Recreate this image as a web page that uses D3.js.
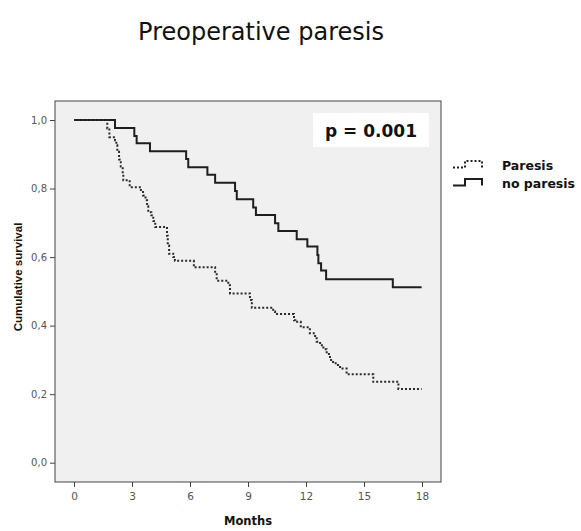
<!DOCTYPE html>
<html>
<head>
<meta charset="utf-8">
<script src="https://cdn.jsdelivr.net/npm/d3@7"></script>
<style>
  html, body { margin: 0; padding: 0; background: #ffffff; }
  svg { display: block; }
</style>
</head>
<body>
<svg id="chart" width="581" height="531"></svg>
<script>
// Kaplan-Meier survival estimates by preoperative paresis status
const paresisTimes = [0, 1.72, 1.83, 2.12, 2.19, 2.24, 2.33, 2.42, 2.52, 2.55, 2.88, 3.46, 3.57, 3.7, 3.78, 3.84, 4.0, 4.1, 4.2, 4.81, 4.85, 4.92, 5.13, 5.22, 6.2, 7.3, 7.38, 7.98, 8.07, 9.1, 9.2, 10.3, 10.4, 11.38, 11.45, 11.73, 12.2, 12.4, 12.55, 12.73, 12.9, 13.07, 13.24, 13.4, 13.6, 13.76, 14.1, 15.48, 16.78, 17.98];
const paresisSurvival = [1.0, 0.975, 0.950, 0.941, 0.926, 0.907, 0.885, 0.864, 0.843, 0.824, 0.804, 0.790, 0.780, 0.766, 0.748, 0.731, 0.722, 0.705, 0.688, 0.662, 0.634, 0.610, 0.600, 0.589, 0.570, 0.553, 0.531, 0.518, 0.494, 0.475, 0.452, 0.441, 0.434, 0.416, 0.411, 0.395, 0.378, 0.370, 0.353, 0.343, 0.331, 0.317, 0.300, 0.290, 0.285, 0.275, 0.258, 0.236, 0.215, 0.215];

const noParesisTimes = [0, 2.12, 3.12, 3.24, 3.93, 5.8, 5.91, 6.9, 7.3, 8.33, 8.42, 9.27, 9.41, 10.4, 10.57, 11.52, 12.07, 12.59, 12.64, 12.78, 13.04, 16.49, 17.98];
const noParesisSurvival = [1.0, 0.977, 0.953, 0.932, 0.909, 0.886, 0.862, 0.840, 0.817, 0.793, 0.769, 0.745, 0.723, 0.699, 0.676, 0.652, 0.631, 0.606, 0.582, 0.561, 0.535, 0.512, 0.512];

const xTicks = [0, 3, 6, 9, 12, 15, 18];
const yTicks = [0, 0.2, 0.4, 0.6, 0.8, 1.0];
const seriesNames = ["Paresis", "no paresis"];
const titleText = "Preoperative paresis";
const pValueText = "p = 0.001";

const svg = d3.select("#chart");

// plot frame
const frame = { left: 55, right: 441, top: 101, bottom: 482 };

const x = d3.scaleLinear().domain([0, 18]).range([74, 422]);
const y = d3.scaleLinear().domain([0, 1]).range([462.7, 120]);

svg.append("rect")
  .attr("x", frame.left).attr("y", frame.top)
  .attr("width", frame.right - frame.left)
  .attr("height", frame.bottom - frame.top)
  .attr("fill", "#f0f0f0")
  .attr("stroke", "#444")
  .attr("stroke-width", 1);

// title
svg.append("text")
  .attr("x", 261).attr("y", 40)
  .attr("text-anchor", "middle")
  .attr("font-family", "DejaVu Sans, Verdana, sans-serif")
  .attr("font-size", 24)
  .attr("fill", "#111")
  .text(titleText);

// y axis
const yAxis = d3.axisLeft(y)
  .tickValues(yTicks)
  .tickSize(5)
  .tickPadding(3)
  .tickFormat(d => d3.format(".1f")(d).replace(".", ","));
const gy = svg.append("g")
  .attr("transform", `translate(${frame.left},0)`)
  .call(yAxis);
gy.select(".domain").remove();
gy.selectAll(".tick line").attr("stroke", "#444");
gy.selectAll(".tick text")
  .attr("font-family", "DejaVu Sans, Verdana, sans-serif")
  .attr("font-size", 10)
  .attr("fill", "#555");

// x axis
const xAxis = d3.axisBottom(x)
  .tickValues(xTicks)
  .tickSize(5)
  .tickPadding(6)
  .tickFormat(d3.format("d"));
const gx = svg.append("g")
  .attr("transform", `translate(0,${frame.bottom})`)
  .call(xAxis);
gx.select(".domain").remove();
gx.selectAll(".tick line").attr("stroke", "#444");
gx.selectAll(".tick text")
  .attr("font-family", "DejaVu Sans, Verdana, sans-serif")
  .attr("font-size", 10.5)
  .attr("fill", "#555");

// axis titles
svg.append("text")
  .attr("transform", "translate(22,277) rotate(-90)")
  .attr("text-anchor", "middle")
  .attr("font-family", "Liberation Sans, Arial, sans-serif")
  .attr("font-weight", "bold")
  .attr("font-size", 11.5)
  .attr("fill", "#111")
  .text("Cumulative survival");

svg.append("text")
  .attr("x", 248).attr("y", 525)
  .attr("text-anchor", "middle")
  .attr("font-family", "DejaVu Sans, Verdana, sans-serif")
  .attr("font-weight", "bold")
  .attr("font-size", 11.5)
  .attr("fill", "#111")
  .text("Months");

// survival curves
const line = d3.line()
  .x(d => x(d[0]))
  .y(d => y(d[1]))
  .curve(d3.curveStepAfter);

const paresisData = d3.zip(paresisTimes, paresisSurvival);
const noParesisData = d3.zip(noParesisTimes, noParesisSurvival);

svg.append("path")
  .datum(noParesisData)
  .attr("d", line)
  .attr("fill", "none")
  .attr("stroke", "#1e1e1e")
  .attr("stroke-width", 2);

svg.append("path")
  .datum(paresisData)
  .attr("d", line)
  .attr("fill", "none")
  .attr("stroke", "#2a2a2a")
  .attr("stroke-width", 2)
  .attr("stroke-dasharray", "2,2");

// p-value box
svg.append("rect")
  .attr("x", 313).attr("y", 113)
  .attr("width", 116).attr("height", 34)
  .attr("fill", "#ffffff");
svg.append("text")
  .attr("x", 371).attr("y", 137)
  .attr("text-anchor", "middle")
  .attr("font-family", "DejaVu Sans, Verdana, sans-serif")
  .attr("font-weight", "bold")
  .attr("font-size", 17)
  .attr("fill", "#111")
  .text(pValueText);

// legend
const legendRows = [
  { name: seriesNames[0], dash: "2,2", base: 167.5, top: 161 },
  { name: seriesNames[1], dash: null, base: 185.5, top: 179 }
];
const lg = svg.append("g");
legendRows.forEach(r => {
  lg.append("path")
    .attr("d", `M453,${r.base}H465V${r.top}H482V${r.base}`)
    .attr("fill", "none")
    .attr("stroke", "#1e1e1e")
    .attr("stroke-width", 2)
    .attr("stroke-dasharray", r.dash);
  lg.append("text")
    .attr("x", 502).attr("y", r.base + 2)
    .attr("font-family", "DejaVu Sans, Verdana, sans-serif")
    .attr("font-weight", "bold")
    .attr("font-size", 12.5)
    .attr("fill", "#111")
    .text(r.name);
});
</script>
</body>
</html>
